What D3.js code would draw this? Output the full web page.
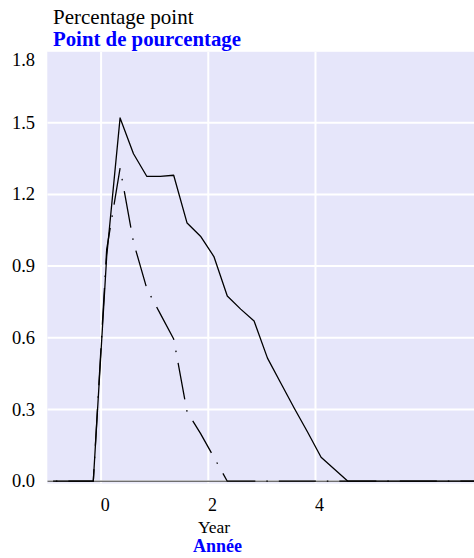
<!DOCTYPE html>
<html>
<head>
<meta charset="utf-8">
<script src="https://cdn.jsdelivr.net/npm/d3@7"></script>
<style>
  html, body { margin: 0; padding: 0; background: #ffffff; }
  svg { display: block; }
</style>
</head>
<body>
<svg id="chart" width="474" height="558"></svg>
<script>
// ---- data ----
const years = [-1, -0.75, -0.5, -0.25, 0, 0.25, 0.5, 0.75, 1, 1.25, 1.5, 1.75, 2, 2.25, 2.5, 2.75,
               3, 3.25, 3.5, 3.75, 4, 4.25, 4.5, 4.75, 5, 5.25, 5.5, 5.75, 6, 6.25, 6.5, 6.75, 7];
const solidSeries = [0, 0, 0, 0, 0.94, 1.52, 1.37, 1.275, 1.275, 1.28, 1.08, 1.025, 0.94, 0.775, 0.72, 0.67,
                     0.515, 0.41, 0.305, 0.205, 0.10, 0.05, 0, 0, 0, 0, 0, 0, 0, 0, 0, 0, 0];
const dashSeries  = [0, 0, 0, 0, 0.97, 1.31, 1.0, 0.805, 0.70, 0.595, 0.29, 0.20, 0.10, 0, 0, 0,
                     0, 0, 0, 0, 0, 0, 0, 0, 0, 0, 0, 0, 0, 0, 0, 0, 0];
const xTicks = [0, 2, 4];
const yTicks = [0.0, 0.3, 0.6, 0.9, 1.2, 1.5, 1.8];
const yTitleEn = "Percentage point";
const yTitleFr = "Point de pourcentage";
const xTitleEn = "Year";
const xTitleFr = "Année";

// ---- layout ----
const FONT = "'Liberation Serif', 'Times New Roman', 'DejaVu Serif', serif";
const pLeft = 47.3, pRight = 474, pTop = 51.7, pBottom = 483.5;
const svg = d3.select("#chart");

const x = d3.scaleLinear().domain([-1.108, 6.853]).range([pLeft, pRight]);
const y = d3.scaleLinear().domain([-0.0096, 1.797]).range([pBottom, pTop]);

// plot background
svg.append("rect")
  .attr("x", pLeft).attr("y", pTop)
  .attr("width", pRight - pLeft).attr("height", pBottom - pTop)
  .attr("fill", "#e6e6fa");

svg.append("clipPath").attr("id", "plotclip")
  .append("rect").attr("x", pLeft).attr("y", pTop)
  .attr("width", pRight - pLeft).attr("height", pBottom - pTop);

// grid
const grid = svg.append("g").attr("clip-path", "url(#plotclip)");
grid.selectAll("line.h").data(yTicks).enter().append("line")
  .attr("class", "h")
  .attr("x1", pLeft).attr("x2", pRight)
  .attr("y1", d => y(d)).attr("y2", d => y(d))
  .attr("stroke", "#ffffff").attr("stroke-width", 2);
grid.selectAll("line.v").data(xTicks).enter().append("line")
  .attr("class", "v")
  .attr("x1", d => x(d) - 5.6).attr("x2", d => x(d) - 5.6)
  .attr("y1", pTop).attr("y2", pBottom)
  .attr("stroke", "#ffffff").attr("stroke-width", 2);

// zero line
grid.append("line")
  .attr("x1", pLeft).attr("x2", pRight)
  .attr("y1", y(0)).attr("y2", y(0))
  .attr("stroke", "#333").attr("stroke-width", 1);

// lines
const line = d3.line().x((d, i) => x(years[i])).y(d => y(d));
const plot = svg.append("g").attr("clip-path", "url(#plotclip)");

plot.append("path")
  .attr("d", line(solidSeries))
  .attr("fill", "none").attr("stroke", "#000").attr("stroke-width", 1.3)
  .attr("stroke-linejoin", "round");

const dashPath = plot.append("path")
  .attr("d", line(dashSeries))
  .attr("fill", "none").attr("stroke", "#000").attr("stroke-width", 1.3)
  .attr("stroke-linejoin", "round");
// align dash phase so a dash ends at the peak
const peakIdx = dashSeries.indexOf(d3.max(dashSeries));
const tmp = svg.append("path").attr("d", line(dashSeries.slice(0, peakIdx + 1)));
const Lpeak = tmp.node().getTotalLength();
tmp.remove();
const period = 37 + 11 + 1.5 + 11;
dashPath.attr("stroke-dasharray", "37,11,1.5,11")
  .attr("stroke-dashoffset", ((37 - Lpeak) % period + period) % period);

// y tick labels
svg.append("g").selectAll("text").data(yTicks).enter().append("text")
  .attr("x", 35)
  .attr("y", d => Math.max(y(d), pTop + 8.5))
  .attr("dy", "0.33em")
  .attr("text-anchor", "end")
  .attr("font-family", FONT)
  .attr("font-size", 18.5)
  .attr("fill", "#000")
  .text(d => d.toFixed(1));

// x tick labels
svg.append("g").selectAll("text").data(xTicks).enter().append("text")
  .attr("x", d => x(d) - 1.5)
  .attr("y", 510.5)
  .attr("text-anchor", "middle")
  .attr("font-family", FONT)
  .attr("font-size", 18)
  .attr("fill", "#000")
  .text(d => d);

// titles
svg.append("text").attr("x", 53).attr("y", 23.5)
  .attr("font-family", FONT)
  .attr("font-size", 21).attr("fill", "#000").text(yTitleEn);
svg.append("text").attr("x", 53).attr("y", 46)
  .attr("font-family", FONT)
  .attr("font-size", 20.8).attr("font-weight", "bold").attr("fill", "#0000ff").text(yTitleFr);
svg.append("text").attr("x", 214).attr("y", 532.5)
  .attr("text-anchor", "middle")
  .attr("font-family", FONT)
  .attr("font-size", 17.5).attr("fill", "#000").text(xTitleEn);
svg.append("text").attr("x", 217.5).attr("y", 551.5)
  .attr("text-anchor", "middle")
  .attr("font-family", FONT)
  .attr("font-size", 18).attr("font-weight", "bold").attr("fill", "#0000ff").text(xTitleFr);
</script>
</body>
</html>
